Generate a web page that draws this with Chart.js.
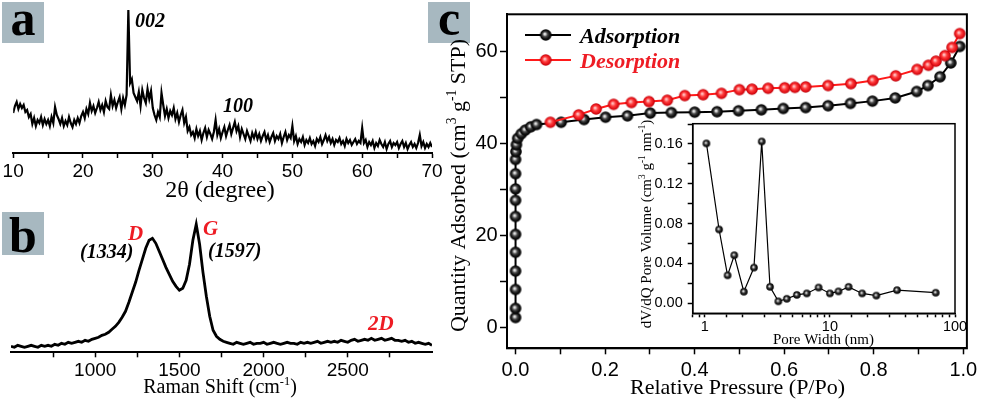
<!DOCTYPE html>
<html>
<head>
<meta charset="utf-8">
<script src="https://cdn.jsdelivr.net/npm/chart.js@4.4.1/dist/chart.umd.min.js"></script>
<style>
  html, body { margin: 0; padding: 0; background: #fff; }
  body { width: 981px; height: 403px; position: relative; overflow: hidden; }
  canvas { position: absolute; }
</style>
</head>
<body>
<canvas id="xrd" width="450" height="205" style="left:0;top:0"></canvas>
<canvas id="raman" width="450" height="198" style="left:0;top:205px"></canvas>
<canvas id="bet" width="561" height="403" style="left:420px;top:0"></canvas>
<canvas id="pore" width="380" height="250" style="left:590px;top:110px"></canvas>
<script>
// ---------- data ----------
// (a) XRD pattern, sampled every 0.25 degree from 10 to 70
const xrdStart = 10;
const xrdStep = 0.25;
const xrdIntensity = [
  40, 47, 51, 44, 49, 45, 48, 41, 43, 36, 39, 29, 35, 27, 33, 30, 36, 28, 34, 29,
  33, 27, 36, 30, 46, 38, 34, 29, 35, 27, 32, 28, 36, 30, 26, 33, 29, 35, 30, 37,
  41, 35, 44, 39, 50, 42, 47, 40, 45, 51, 43, 48, 41, 52, 46, 44, 58, 47, 53, 45,
  51, 56, 44, 55, 48, 58, 143, 70, 74, 60, 56, 52, 61, 47, 63, 55, 50, 64, 54, 62,
  45, 38, 33, 41, 36, 60, 48, 37, 44, 35, 42, 38, 45, 34, 40, 31, 38, 43, 30, 36,
  22, 26, 18, 21, 15, 24, 17, 22, 13, 20, 25, 16, 23, 19, 14, 21, 33, 18, 24, 15,
  21, 26, 17, 23, 28, 19, 25, 31, 22, 27, 16, 24, 19, 14, 22, 17, 12, 20, 15, 21,
  14, 19, 12, 17, 21, 13, 18, 11, 16, 20, 12, 17, 14, 19, 10, 16, 21, 13, 18, 15,
  27, 12, 17, 9, 14, 11, 16, 8, 13, 10, 15, 9, 12, 7, 14, 11, 16, 9, 13, 18,
  12, 16, 10, 14, 8, 13, 11, 15, 9, 12, 7, 14, 10, 13, 8, 11, 14, 9, 12, 10,
  25, 10, 13, 6, 11, 8, 12, 5, 10, 7, 13, 9, 6, 11, 4, 9, 12, 6, 10, 8,
  11, 5, 9, 12, 6, 10, 4, 8, 11, 6, 9, 5, 10, 18, 7, 11, 5, 9, 6, 10,
  6
];
const xrdTickLabels = [10, 20, 30, 40, 50, 60, 70];

// (b) Raman spectrum, sampled every 20 cm-1 from 500 to 3000
const ramanStart = 500;
const ramanStep = 20;
const ramanIntensity = [
  6, 5, 7, 6, 5, 6, 7, 6, 5, 7, 6, 7, 6, 8, 7,
  9, 8, 10, 9, 10, 11, 10, 12, 11, 13,
  14, 15, 17, 18, 20, 23, 26, 30, 35, 41,
  50, 60, 70, 82, 93, 104, 112, 114, 109, 101,
  93, 85, 78, 71, 66, 62, 64, 72, 88, 112,
  128, 108, 80, 56, 36, 22, 16, 13, 11, 10,
  9, 8, 10, 9, 8, 9, 10, 8, 9, 9, 10, 8, 9, 10, 9, 8, 9, 10, 9, 9, 8, 10, 9, 10, 9, 10, 11, 9, 10, 11,
  10, 11, 10, 12, 11, 10, 12, 13, 11, 12, 13, 12, 14, 12, 13, 14, 12, 13, 14, 12,
  12, 11, 12, 10, 11, 9, 10, 9, 8, 9, 7
];
const ramanTickLabels = [1000, 1500, 2000, 2500];

// (c) N2 isotherm
const adsPressure = [0, 0, 0, 0, 0, 0, 0, 0, 0, 0, 0, 0.001, 0.002, 0.005, 0.013, 0.022, 0.034, 0.047,
  0.102, 0.153, 0.201, 0.250, 0.301, 0.348, 0.400, 0.450, 0.498, 0.549, 0.598, 0.648, 0.698,
  0.748, 0.797, 0.848, 0.896, 0.921, 0.948, 0.972, 0.992];
const adsQuantity = [2.1, 4.1, 8.2, 12.2, 16.3, 20.2, 24.1, 27.6, 30.1, 33.4, 36.5, 38.2, 39.7, 41.1, 42.1, 42.9, 43.6, 44.1,
  44.6, 45.2, 45.7, 46.0, 46.6, 46.7, 46.8, 46.9, 47.1, 47.3, 47.6, 47.8, 48.2,
  48.7, 49.2, 49.9, 51.3, 52.6, 54.5, 57.5, 61.1];
const desPressure = [0.078, 0.141, 0.180, 0.219, 0.259, 0.298, 0.339, 0.378, 0.419, 0.460, 0.500, 0.528, 0.564,
  0.601, 0.624, 0.648, 0.698, 0.749, 0.798, 0.849, 0.897, 0.922, 0.939, 0.959, 0.975, 0.992];
const desQuantity = [44.6, 46.2, 47.5, 48.5, 48.9, 49.1, 49.4, 50.4, 50.6, 50.9, 51.7, 51.8, 52.0,
  52.1, 52.2, 52.3, 52.6, 53.0, 53.7, 54.7, 56.1, 57.0, 57.9, 59.1, 60.9, 63.9];
const pressureTickLabels = [0, 0.2, 0.4, 0.6, 0.8, 1.0];
const quantityTickLabels = [0, 20, 40, 60];

// (c, inset) pore size distribution
const poreWidth = [1.03, 1.30, 1.52, 1.72, 2.05, 2.47, 2.85, 3.32, 3.87, 4.52, 5.44, 6.53, 8.12, 10.0, 11.7, 14.1, 18.1, 23.5, 34.4, 70.1];
const poreVolume = [0.1606, 0.0740, 0.0279, 0.0481, 0.0114, 0.0357, 0.1625, 0.0163, 0.0017, 0.0043, 0.0082, 0.0097, 0.0156, 0.0097, 0.0117, 0.0163, 0.0097, 0.0075, 0.0130, 0.0104];
const poreWidthTickLabels = [1, 10, 100];
const poreVolumeTickLabels = [0, 0.04, 0.08, 0.12, 0.16];

// ---------- helpers ----------
const SERIF = '"Liberation Serif", "Times New Roman", serif';
const RED = '#ee1c24';

Chart.defaults.font.family = '"Liberation Sans", Arial, sans-serif';
Chart.defaults.color = '#000';

function pickLabels(list, digits) {
  return function(value) {
    const hit = list.find(t => Math.abs(t - value) < 1e-6);
    return hit === undefined ? '' : hit.toFixed(digits);
  };
}

function axis(o) {
  return {
    type: o.type || 'linear',
    min: o.min,
    max: o.max,
    afterFit: o.fit,
    border: { display: true, color: '#000', width: o.border || 2 },
    grid: {
      drawOnChartArea: false,
      drawTicks: true,
      tickLength: o.tickLength,
      tickWidth: 1.5,
      tickColor: o.tickColor || '#000'
    },
    ticks: {
      stepSize: o.step,
      includeBounds: false,
      autoSkip: false,
      maxRotation: 0,
      minRotation: 0,
      padding: o.pad,
      color: '#000',
      font: { size: o.font },
      callback: o.callback
    }
  };
}

// shaded ball used as point marker
function makeBall(r, stops) {
  const c = document.createElement('canvas');
  const s = Math.ceil(r * 2) + 2;
  c.width = c.height = s;
  const g = c.getContext('2d');
  const m = s / 2;
  const grad = g.createRadialGradient(m - r * 0.2, m - r * 0.2, 0, m, m, r);
  stops.forEach(([p, col]) => grad.addColorStop(p, col));
  g.fillStyle = grad;
  g.beginPath();
  g.arc(m, m, r, 0, Math.PI * 2);
  g.fill();
  return c;
}
const blackStops = [[0, '#ffffff'], [0.18, '#cfcfcf'], [0.42, '#4a4a4a'], [0.72, '#111'], [1, '#000']];
const redStops = [[0, '#ffe6e6'], [0.2, '#ff9a9a'], [0.45, '#ff3b3b'], [0.8, '#e00f16'], [1, '#b80008']];
const blackBall = makeBall(5.8, blackStops);
const redBall = makeBall(5.8, redStops);
const smallBall = makeBall(3.8, blackStops);

// text with superscript runs, centred on (cx, baseline cy), optionally rotated -90deg
function richText(ctx, runs, cx, cy, px, rotate) {
  ctx.save();
  ctx.translate(cx, cy);
  if (rotate) ctx.rotate(-Math.PI / 2);
  ctx.fillStyle = '#000';
  ctx.textAlign = 'left';
  ctx.textBaseline = 'alphabetic';
  const supPx = px * 0.62;
  const widths = runs.map(r => {
    ctx.font = (r[1] ? supPx : px) + 'px ' + SERIF;
    return ctx.measureText(r[0]).width;
  });
  let x = -widths.reduce((a, b) => a + b, 0) / 2;
  runs.forEach((r, i) => {
    ctx.font = (r[1] ? supPx : px) + 'px ' + SERIF;
    ctx.fillText(r[0], x, r[1] ? -px * 0.42 : 0);
    x += widths[i];
  });
  ctx.restore();
}

function label(ctx, text, x, y, px, color) {
  ctx.save();
  ctx.font = 'italic bold ' + px + 'px ' + SERIF;
  ctx.fillStyle = color;
  ctx.textAlign = 'left';
  ctx.textBaseline = 'alphabetic';
  ctx.fillText(text, x, y);
  ctx.restore();
}

function panelTag(ctx, letter, x, y, w, h, baseline) {
  ctx.save();
  ctx.fillStyle = '#a7b8c0';
  ctx.fillRect(x, y, w, h);
  ctx.fillStyle = '#000';
  ctx.font = 'bold 50px ' + SERIF;
  ctx.textAlign = 'center';
  ctx.textBaseline = 'alphabetic';
  ctx.fillText(letter, x + w / 2, baseline);
  ctx.restore();
}

function frame(width) {
  return {
    id: 'frame',
    afterDraw(chart) {
      const { ctx, chartArea: a } = chart;
      ctx.save();
      ctx.strokeStyle = '#000';
      ctx.lineWidth = width;
      ctx.strokeRect(a.left, a.top, a.right - a.left, a.bottom - a.top);
      ctx.restore();
    }
  };
}

const baseOptions = {
  responsive: false,
  animation: false,
  events: [],
  plugins: { legend: { display: false }, tooltip: { enabled: false } }
};

// ---------- (a) XRD ----------
new Chart(document.getElementById('xrd'), {
  type: 'line',
  data: {
    datasets: [{
      data: xrdIntensity.map((v, i) => ({ x: xrdStart + i * xrdStep, y: v })),
      borderColor: '#000',
      borderWidth: 2.2,
      pointRadius: 0,
      tension: 0
    }]
  },
  options: {
    ...baseOptions,
    layout: { padding: { left: 11, top: 5, right: 18, bottom: 0 } },
    scales: {
      x: axis({ min: 10, max: 70, step: 5, tickLength: 5, pad: 2.6, font: 19,
        callback: pickLabels(xrdTickLabels, 0), fit: s => { s.height = 52; } }),
      y: { display: false, min: 0, max: 148 }
    }
  },
  plugins: [{
    id: 'xrdText',
    afterDraw(chart) {
      const ctx = chart.ctx;
      panelTag(ctx, 'a', 2, 2, 42, 41, 35);
      label(ctx, '002', 135, 27, 20, '#000');
      label(ctx, '100', 223, 112, 20, '#000');
      richText(ctx, [['2θ (degree)', false]], 220, 197, 24, false);
    }
  }]
});

// ---------- (b) Raman ----------
new Chart(document.getElementById('raman'), {
  type: 'line',
  data: {
    datasets: [{
      data: ramanIntensity.map((v, i) => ({ x: ramanStart + i * ramanStep, y: v })),
      borderColor: '#000',
      borderWidth: 2.8,
      pointRadius: 0,
      tension: 0
    }]
  },
  options: {
    ...baseOptions,
    layout: { padding: { left: 11, top: 5, right: 18, bottom: 0 } },
    scales: {
      x: axis({ min: 500, max: 3000, step: 250, tickLength: 5, pad: 2.3, font: 19,
        tickColor: c => (c.tick && (c.tick.value === 500 || c.tick.value === 3000)) ? 'rgba(0,0,0,0)' : '#000',
        callback: pickLabels(ramanTickLabels, 0), fit: s => { s.height = 50.7; } }),
      y: { display: false, min: 0, max: 142.3 }
    }
  },
  plugins: [{
    id: 'ramanText',
    afterDraw(chart) {
      const ctx = chart.ctx;
      panelTag(ctx, 'b', 2, 7, 42, 43, 46.7);
      label(ctx, 'D', 128, 35, 21, RED);
      label(ctx, 'G', 203, 30, 21, RED);
      label(ctx, '(1334)', 80, 53, 20, '#000');
      label(ctx, '(1597)', 208, 51.5, 20, '#000');
      label(ctx, '2D', 368, 125, 21, RED);
      richText(ctx, [['Raman Shift (cm', false], ['-1', true], [')', false]], 220, 188, 20, false);
    }
  }]
});

// ---------- (c) isotherm ----------
new Chart(document.getElementById('bet'), {
  type: 'line',
  data: {
    datasets: [{
      label: 'Adsorption',
      data: adsPressure.map((p, i) => ({ x: p, y: adsQuantity[i] })),
      borderColor: '#000',
      borderWidth: 2,
      pointStyle: blackBall,
      tension: 0,
      order: 1
    }, {
      label: 'Desorption',
      data: desPressure.map((p, i) => ({ x: p, y: desQuantity[i] })),
      borderColor: '#ff1a1a',
      borderWidth: 2,
      pointStyle: redBall,
      tension: 0,
      order: 0
    }]
  },
  options: {
    ...baseOptions,
    layout: { padding: { left: 0, top: 6, right: 11.7, bottom: 0 } },
    scales: {
      x: axis({ min: -0.019, max: 1.008, step: 0.1, tickLength: 6, pad: 3.7, font: 20,
        callback: pickLabels(pressureTickLabels, 1), fit: s => { s.height = 54.7; } }),
      y: axis({ min: -4.6, max: 68.1, step: 10, tickLength: 7, pad: 2.3, font: 20,
        callback: pickLabels(quantityTickLabels, 0), fit: s => { s.width = 87; } })
    }
  },
  plugins: [frame(2), {
    id: 'betText',
    afterDraw(chart) {
      const ctx = chart.ctx;
      panelTag(ctx, 'c', 8, 2, 42, 41, 35);
      // legend
      [[35, '#000', blackBall, 'Adsorption', '#000'], [60, '#ff1a1a', redBall, 'Desorption', RED]].forEach(([y, line, ball, text, col]) => {
        ctx.save();
        ctx.strokeStyle = line;
        ctx.lineWidth = 2;
        ctx.beginPath();
        ctx.moveTo(105, y);
        ctx.lineTo(151, y);
        ctx.stroke();
        ctx.drawImage(ball, 125.7 - ball.width / 2, y - ball.height / 2);
        ctx.restore();
        label(ctx, text, 160, y + 7.7, 22, col);
      });
      richText(ctx, [['Quantity Adsorbed (cm', false], ['3', true], [' g', false], ['-1', true], [' STP)', false]], 45, 185.5, 22, true);
      richText(ctx, [['Relative Pressure (P/Po)', false]], 317.5, 394, 22, false);
    }
  }]
});

// ---------- (c) inset: pore size distribution ----------
new Chart(document.getElementById('pore'), {
  type: 'line',
  data: {
    datasets: [{
      data: poreWidth.map((w, i) => ({ x: w, y: poreVolume[i] })),
      borderColor: '#000',
      borderWidth: 1.2,
      pointStyle: smallBall,
      tension: 0
    }]
  },
  options: {
    ...baseOptions,
    layout: { padding: { left: 0, top: 7.3, right: 15, bottom: 0 } },
    scales: {
      x: axis({ type: 'logarithmic', min: 0.8, max: 100, tickLength: 4, pad: 0.7, font: 14.5, border: 1.5,
        callback: pickLabels(poreWidthTickLabels, 0), fit: s => { s.height = 46.7; } }),
      y: axis({ min: -0.0103, max: 0.1804, step: 0.02, tickLength: 5, pad: 5, font: 14.5, border: 1.5,
        callback: pickLabels(poreVolumeTickLabels, 2), fit: s => { s.width = 102.7; } })
    }
  },
  plugins: [frame(1.5), {
    id: 'poreText',
    afterDraw(chart) {
      const ctx = chart.ctx;
      richText(ctx, [['dV/dQ Pore Volume (cm', false], ['3', true], [' g', false], ['-1', true], [' nm', false], ['-1', true], [')', false]], 61, 114, 15, true);
      richText(ctx, [['Pore Width (nm)', false]], 233.5, 234.3, 15, false);
    }
  }]
});
</script>
</body>
</html>
